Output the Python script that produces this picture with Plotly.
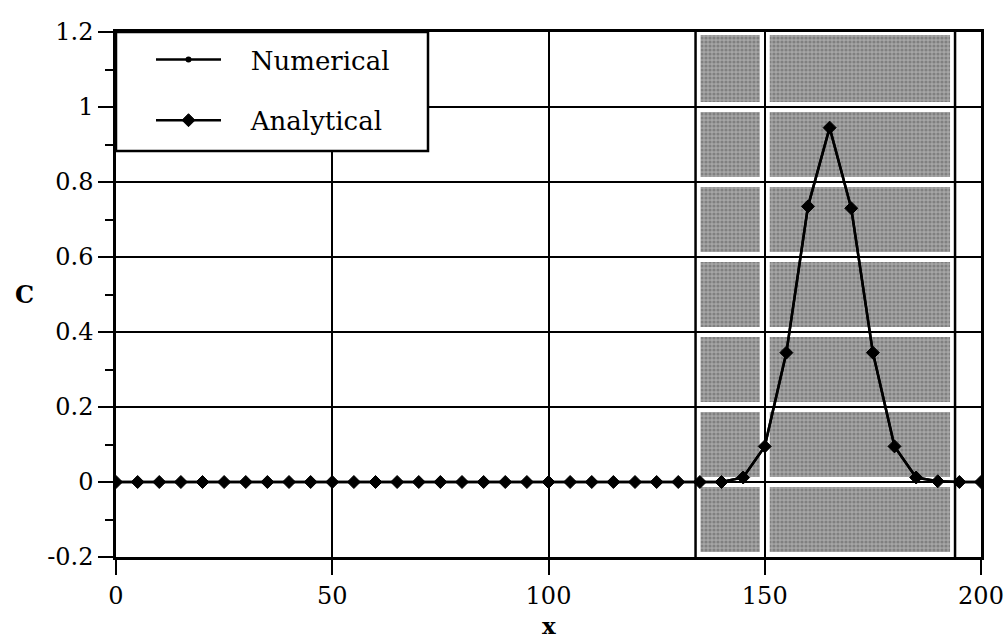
import plotly.graph_objects as go

# Concentration profile sampled every 5 units of x
x_vals = list(range(0, 205, 5))
c_numerical = [0.0] * 28 + [0.0, 0.012, 0.095, 0.345, 0.735, 0.945, 0.73, 0.345, 0.095, 0.012, 0.002, 0.0, 0.0]
c_analytical = [0.0] * 28 + [0.0, 0.012, 0.095, 0.345, 0.735, 0.945, 0.73, 0.345, 0.095, 0.012, 0.002, 0.0, 0.0]
series_names = ["Numerical", "Analytical"]

# Shaded band bounds (in x) and grid layout
band_edges_x = [134, 150, 194]
y_grid = [-0.2, 0.0, 0.2, 0.4, 0.6, 0.8, 1.0, 1.2]
y_labels = ["-0.2", "0", "0.2", "0.4", "0.6", "0.8", "1", "1.2"]
x_ticks = [0, 50, 100, 150, 200]
x_labels = ["0", "50", "100", "150", "200"]

X_RANGE = [0, 200]
Y_RANGE = [-0.2, 1.2]

W, H = 1007, 641
M = dict(l=116, r=26, t=32, b=84)
PW = W - M["l"] - M["r"]
PH = H - M["t"] - M["b"]
px_x = (X_RANGE[1] - X_RANGE[0]) / PW
px_y = (Y_RANGE[1] - Y_RANGE[0]) / PH
gap = 5  # white margin (px) kept around grid lines inside the band

FONT = "DejaVu Serif"
PAD = "\u00a0\u00a0\u00a0"  # spacing between legend sample and label

fig = go.Figure()

# stippled grey cells of the band, leaving a white margin around each grid line
cx, cy = [], []
for i in range(len(band_edges_x) - 1):
    x0 = band_edges_x[i] + gap * px_x
    x1 = band_edges_x[i + 1] - gap * px_x
    for j in range(len(y_grid) - 1):
        y0 = y_grid[j] + gap * px_y
        y1 = y_grid[j + 1] - (3 if j == len(y_grid) - 2 else gap) * px_y
        cx += [x0, x1, x1, x0, x0, None]
        cy += [y0, y0, y1, y1, y0, None]
fig.add_trace(go.Scatter(
    x=cx, y=cy, mode="lines", fill="toself", line=dict(width=0),
    fillcolor="#9a9a9a",
    fillpattern=dict(shape=".", bgcolor="#a6a6a6", fgcolor="#5a5a5a", size=4, solidity=0.5),
    showlegend=False, hoverinfo="skip",
))

fig.add_trace(go.Scatter(
    x=x_vals, y=c_numerical, name=PAD + series_names[0], mode="lines+markers",
    line=dict(color="black", width=2.5),
    marker=dict(symbol="circle", size=6, color="black"),
    legendgroup="num",
))
fig.add_trace(go.Scatter(
    x=x_vals, y=c_analytical, name=PAD + series_names[1], mode="lines+markers",
    line=dict(color="black", width=2.5),
    marker=dict(symbol="diamond", size=10, color="black", line=dict(color="black", width=1)),
    legendgroup="ana",
))

# band boundary lines
for xv in (band_edges_x[0], band_edges_x[-1]):
    fig.add_shape(type="line", x0=xv, x1=xv, y0=Y_RANGE[0], y1=Y_RANGE[1],
                  xref="x", yref="y", line=dict(color="black", width=2.5), layer="below")

# legend frame, tucked into the top-left corner of the plot
LEG_W, LEG_H = 312, 119
fig.add_shape(type="rect", xref="paper", yref="paper",
              x0=0, x1=LEG_W / PW, y0=1 - LEG_H / PH, y1=1,
              fillcolor="white", line=dict(color="black", width=2.5), layer="above")

# axis labels
fig.add_annotation(text="<b>C</b>", x=(24 - M["l"]) / PW, y=0.5, xref="paper", yref="paper",
                   xanchor="center", yanchor="middle", showarrow=False,
                   font=dict(family=FONT, size=24, color="black"))
fig.add_annotation(text="<b>x</b>", x=0.5, y=-(625 - (H - M["b"])) / PH, xref="paper", yref="paper",
                   xanchor="center", yanchor="middle", showarrow=False,
                   font=dict(family=FONT, size=23, color="black"))

fig.update_layout(
    width=W, height=H,
    margin=M,
    paper_bgcolor="white", plot_bgcolor="white",
    font=dict(family=FONT, size=24, color="black"),
    showlegend=True,
    legend=dict(
        x=35 / PW, y=1 - 4 / PH, xanchor="left", yanchor="top",
        bgcolor="rgba(0,0,0,0)", borderwidth=0,
        font=dict(family=FONT, size=26, color="black"),
        tracegroupgap=24, traceorder="grouped",
        itemwidth=65,
    ),
    xaxis=dict(
        range=X_RANGE, tickvals=x_ticks, ticktext=x_labels, ticks="outside", ticklen=15, tickwidth=2,
        tickcolor="black", showgrid=True, gridcolor="black", gridwidth=2,
        showline=True, linecolor="black", linewidth=2.5, mirror=True,
        zeroline=False, tickfont=dict(size=24), automargin=False,
    ),
    yaxis=dict(
        range=Y_RANGE, tickvals=y_grid, ticktext=y_labels, ticks="outside", ticklen=15, tickwidth=2,
        tickcolor="black", showgrid=True, gridcolor="black", gridwidth=2,
        showline=True, linecolor="black", linewidth=2.5, mirror=True,
        zeroline=False, tickfont=dict(size=24), automargin=False,
        minor=dict(dtick=0.1, tick0=0, ticks="outside", ticklen=8, tickwidth=2, tickcolor="black", showgrid=False),
    ),
)

fig.write_html("out.html")
